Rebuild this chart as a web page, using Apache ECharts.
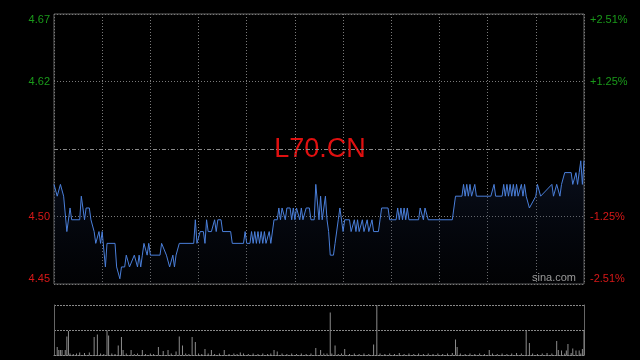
<!DOCTYPE html>
<html><head><meta charset="utf-8">
<script src="https://cdn.jsdelivr.net/npm/echarts@6/dist/echarts.min.js"></script>
<style>html,body{margin:0;padding:0;background:#000;}#c{width:640px;height:360px;}</style>
</head><body><div id="c"></div>
<script>
const symbolName = 'L70.CN';
const siteName = 'sina.com';
const prevClose = 4.56;
const rangeBp = 251;            // +/-2.51 %
const leftTickLabels = ['4.45', '4.50', '', '4.62', '4.67'];
const rightTickLabels = ['-2.51%', '-1.25%', '', '+1.25%', '+2.51%'];
const sessionMinutes = 330;

const priceMinutes = [0,1,2,3,4,5,6,8,10,11,16,17,18,19,20,22,23,24,25,26,27,28,29,30,31,32,33,38,39,40,41,42,44,45,46,47,48,50,51,52,53,54,55,56,57,58,59,60,66,67,68,70,72,73,74,75,76,78,87,88,89,91,93,94,95,96,98,100,101,102,104,105,110,111,118,119,120,122,123,124,125,126,127,128,129,130,131,132,134,135,137,139,140,141,142,143,144,145,147,148,149,150,151,152,153,154,155,157,159,160,162,163,164,165,166,167,168,169,170,171,172,174,175,176,177,178,179,180,181,184,185,186,187,188,189,190,191,192,193,194,195,196,197,198,199,202,203,204,208,209,213,214,215,216,217,218,219,220,221,227,228,229,230,231,232,233,248,250,254,255,256,257,258,259,260,262,263,272,274,275,279,280,281,282,283,284,285,286,287,288,289,290,291,292,293,294,295,296,297,300,301,302,303,304,310,311,312,313,315,316,317,318,322,323,324,325,326,327,328,329,330];
const prices = [4.53,4.53,4.52,4.52,4.53,4.53,4.52,4.49,4.51,4.50,4.50,4.52,4.51,4.50,4.51,4.51,4.50,4.50,4.49,4.48,4.48,4.49,4.48,4.49,4.49,4.46,4.48,4.48,4.46,4.46,4.45,4.46,4.46,4.47,4.47,4.46,4.46,4.47,4.47,4.46,4.47,4.46,4.47,4.48,4.48,4.47,4.48,4.47,4.47,4.48,4.48,4.47,4.46,4.46,4.47,4.46,4.47,4.48,4.48,4.50,4.48,4.49,4.49,4.48,4.50,4.49,4.49,4.50,4.49,4.50,4.50,4.49,4.49,4.48,4.48,4.49,4.48,4.48,4.49,4.48,4.49,4.48,4.49,4.48,4.49,4.48,4.49,4.48,4.49,4.48,4.50,4.50,4.51,4.50,4.51,4.51,4.50,4.51,4.51,4.50,4.51,4.50,4.51,4.51,4.50,4.51,4.50,4.51,4.51,4.50,4.50,4.53,4.53,4.50,4.52,4.50,4.50,4.52,4.50,4.49,4.47,4.47,4.48,4.48,4.50,4.51,4.51,4.49,4.50,4.50,4.49,4.49,4.50,4.49,4.50,4.49,4.49,4.50,4.49,4.49,4.50,4.49,4.49,4.50,4.49,4.49,4.50,4.51,4.51,4.50,4.50,4.51,4.50,4.51,4.50,4.51,4.50,4.51,4.50,4.50,4.51,4.51,4.50,4.51,4.51,4.50,4.50,4.52,4.52,4.53,4.52,4.53,4.52,4.53,4.52,4.53,4.52,4.52,4.53,4.52,4.52,4.53,4.52,4.53,4.52,4.53,4.52,4.53,4.52,4.53,4.52,4.52,4.53,4.52,4.53,4.52,4.52,4.51,4.51,4.52,4.53,4.53,4.52,4.52,4.53,4.52,4.52,4.53,4.52,4.53,4.53,4.54,4.54,4.53,4.53,4.54,4.53,4.54,4.55,4.53,4.55,4.55,4.53];

const volMinutes = [2,3,4,5,7,8,9,10,12,14,16,19,22,25,27,29,31,33,34,36,38,40,42,43,45,48,50,52,55,57,60,62,65,68,71,73,76,78,80,82,84,86,88,90,92,94,96,98,100,103,106,109,112,114,116,118,121,124,127,130,133,135,137,139,142,145,148,151,154,157,160,163,166,168,170,172,173,175,177,179,181,184,187,190,193,196,199,201,203,206,209,212,215,218,221,224,227,230,233,236,239,242,245,248,250,251,253,256,259,262,265,268,271,273,276,279,282,285,288,291,294,296,298,301,304,307,310,313,314,316,318,319,320,322,323,325,327,328,329,330];
const volumes = [16,10,10,10,10,37,48,3,2,3,5,4,5,36,41,3,2,49,39,3,2,19,36,10,3,10,2,3,10,2,3,2,16,8,10,3,7,37,19,3,2,36,26,3,2,12,3,10,2,3,10,2,3,2,5,3,2,3,2,3,2,3,10,7,3,2,3,2,3,2,3,14,10,3,3,85,3,19,2,3,12,2,3,2,3,2,21,100,3,2,3,2,4,2,3,2,3,2,3,2,3,2,3,4,31,16,3,2,3,2,3,2,10,3,2,3,2,3,4,3,48,24,3,2,3,4,3,28,10,9,3,9,22,4,13,9,9,3,12,50];

const GREEN = '#1a9a1a', RED = '#d81818', GRID = '#7a7a7a', BORDER = '#666';
const toBp = p => (p / prevClose - 1) * 10000;
const step = rangeBp / 2;
const tickIdx = v => Math.round(v / step) + 2;
const priceData = priceMinutes.map((m, i) => [m, toBp(prices[i])]);
const volData = volMinutes.map((m, i) => [m, volumes[i]]);
const volMax = Math.max(...volumes);
const FONT = '"Liberation Sans", Arial, sans-serif';

const chart = echarts.init(document.getElementById('c'), null, {renderer: 'canvas'});
chart.setOption({
  backgroundColor: '#000',
  animation: false,
  textStyle: {fontFamily: FONT},
  grid: [
    {left: 54, top: 14, width: 530, height: 270, show: true, borderColor: BORDER, borderWidth: 1, backgroundColor: 'transparent'},
    {left: 54, top: 305, width: 530, height: 50}
  ],
  graphic: [
    {type: 'text', left: 'center', top: 136, z: 0, style: {text: symbolName, fill: '#e01010', font: '27px ' + FONT}},
    {type: 'text', left: 532, top: 272, z: 10, style: {text: siteName, fill: '#9a9a9a', font: '11px ' + FONT}}
  ],
  xAxis: [
    {type: 'value', gridIndex: 0, min: 0, max: sessionMinutes, interval: 30,
     axisLine: {show: false}, axisTick: {show: false}, axisLabel: {show: false},
     splitLine: {show: true, lineStyle: {color: GRID, type: [1, 2], width: 1}}},
    {type: 'value', gridIndex: 1, min: 0, max: sessionMinutes,
     axisLine: {show: true, lineStyle: {color: '#888', type: [2, 1]}}, axisTick: {show: false}, axisLabel: {show: false},
     splitLine: {show: false}}
  ],
  yAxis: [
    {type: 'value', gridIndex: 0, position: 'left', min: -rangeBp, max: rangeBp, interval: step,
     axisLine: {show: false}, axisTick: {show: false},
     axisLabel: {show: true, margin: 4, fontSize: 11, fontFamily: FONT,
       formatter: v => leftTickLabels[tickIdx(v)],
       color: v => tickIdx(v) > 2 ? GREEN : RED,
       verticalAlignMinLabel: 'bottom', verticalAlignMaxLabel: 'top'},
     splitLine: {show: true, lineStyle: {color: [GRID, GRID, 'rgba(0,0,0,0)', GRID, GRID], type: [1, 2]}}},
    {type: 'value', gridIndex: 0, position: 'right', min: -rangeBp, max: rangeBp, interval: step,
     axisLine: {show: false}, axisTick: {show: false}, splitLine: {show: false},
     axisLabel: {show: true, margin: 6, fontSize: 11, fontFamily: FONT,
       formatter: v => rightTickLabels[tickIdx(v)],
       color: v => tickIdx(v) > 2 ? GREEN : RED,
       verticalAlignMinLabel: 'bottom', verticalAlignMaxLabel: 'top'}},
    {type: 'value', gridIndex: 1, position: 'left', min: 0, max: volMax, interval: volMax / 2,
     axisLine: {show: true, lineStyle: {color: BORDER}}, axisTick: {show: false}, axisLabel: {show: false},
     splitLine: {show: true, lineStyle: {color: '#888', type: [2, 1]}}},
    {type: 'value', gridIndex: 1, position: 'right', min: 0, max: volMax, interval: volMax / 2,
     axisLine: {show: true, lineStyle: {color: BORDER}}, axisTick: {show: false}, axisLabel: {show: false},
     splitLine: {show: false}}
  ],
  series: [
    {type: 'line', xAxisIndex: 0, yAxisIndex: 0, data: priceData, showSymbol: false, symbol: 'none',
     lineStyle: {color: '#4a7fda', width: 1}, z: 5,
     areaStyle: {origin: 'start', color: new echarts.graphic.LinearGradient(0, 0, 0, 1, [
       {offset: 0, color: 'rgba(30,50,95,0.45)'}, {offset: 1, color: 'rgba(10,15,30,0.2)'}])},
     markLine: {silent: true, symbol: 'none', label: {show: false},
       lineStyle: {color: '#8a8a8a', type: [4, 2, 1, 2], width: 1},
       data: [{yAxis: toBp(prevClose)}]}},
    {type: 'bar', xAxisIndex: 1, yAxisIndex: 2, data: volData, barWidth: 1,
     itemStyle: {color: '#8c8c8c'}}
  ]
});
</script></body></html>
